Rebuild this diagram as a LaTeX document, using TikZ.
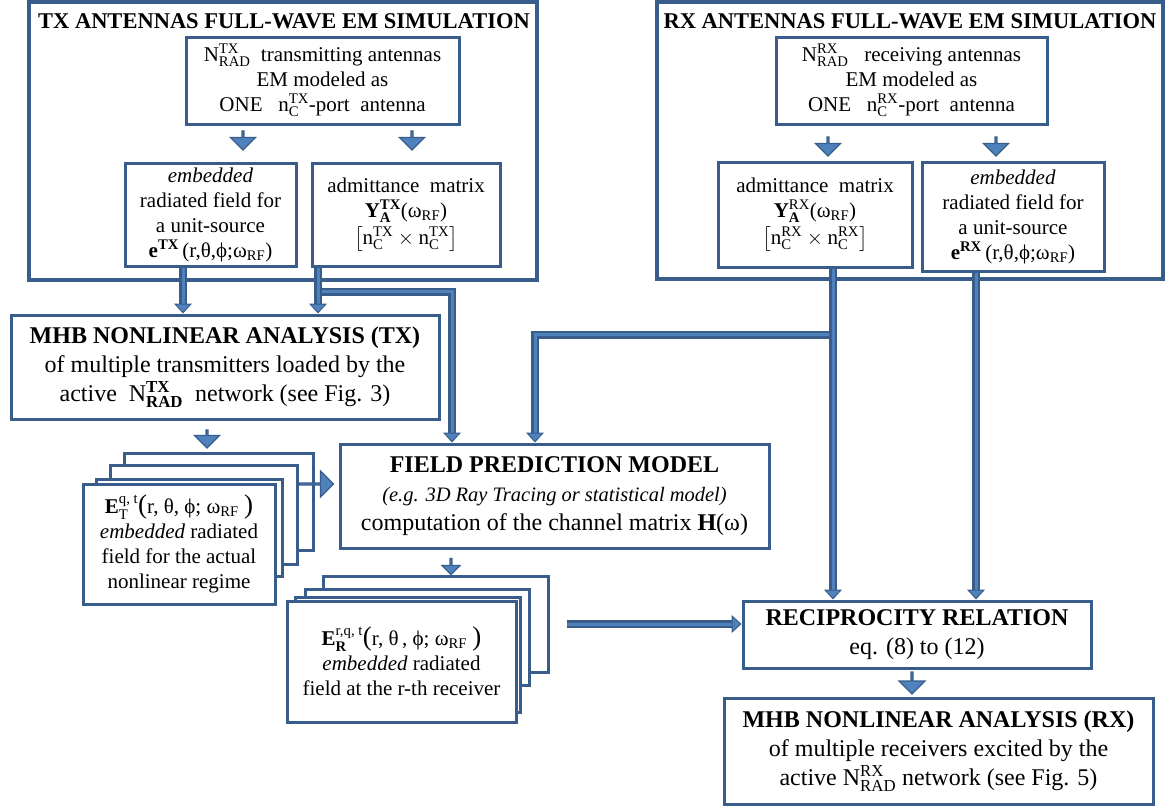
\documentclass[tikz,border=0pt]{standalone}
\usepackage{amsmath}
\usepackage{fontspec}
\setmainfont{Liberation Serif}
\usetikzlibrary{arrows.meta,shapes.arrows,calc}
\definecolor{bord}{RGB}{56,93,138}
\definecolor{fillb}{RGB}{79,129,189}
\newcommand{\wrf}{$\text{ω}_{\text{RF}}$}
\newcommand{\bigpar}[1]{{\fontsize{27}{27}\selectfont #1}}
\tikzset{
  box/.style  = {draw=bord, line width=3pt, fill=white, inner sep=0pt, align=center},
  big/.style  = {box, line width=3.5pt},
  ttl/.style  = {font=\fontsize{22.5}{26}\selectfont\bfseries},
  txt/.style  = {font=\fontsize{21}{25}\selectfont},
  txtl/.style = {font=\fontsize{24}{29}\selectfont},
  conn/.style = {draw=bord, line width=2.5pt, double=fillb, double distance=3pt,
                 -{Triangle[length=10pt,width=18pt,fill=fillb,line width=1pt]}},
  blk/.style  = {single arrow, draw=bord, fill=fillb, line width=1.2pt, inner sep=0pt,
                 minimum height=19pt, minimum width=25pt, single arrow head extend=7pt},
  down/.style = {blk, shape border rotate=270}
}
\begin{document}
\begin{tikzpicture}[x=1pt,y=-1pt]
  \useasboundingbox (0,0) rectangle (1173,807);
  % ---- TX antennas ----
  \node[big, minimum width=508pt, minimum height=278pt] (txsim) at (283,141) {};
  \node[ttl] (txttl) at (284,21) {TX ANTENNAS FULL-WAVE EM SIMULATION};
  \node[box, txt, minimum width=273pt, minimum height=87pt] (txant) at (322.5,80.5)
    {N$^{\text{TX}}_{\text{RAD}}$~~transmitting antennas\\EM modeled as\\ONE~~~n$^{\text{TX}}_{\text{C}}$-port~~antenna};
  \node[box, txt, minimum width=171pt, minimum height=103pt] (txemb) at (210.5,214.5)
    {\textit{embedded}\\radiated field for\\a unit-source\\\textbf{e}$^{\textbf{TX}}$\,(r,θ,ϕ;\wrf)};
  \node[box, txt, minimum width=188pt, minimum height=103pt] (txadm) at (406,214.5)
    {admittance~~matrix\\\textbf{Y}$^{\textbf{TX}}_{\textbf{A}}$(\wrf)\\[2pt]$\left[\text{n}^{\text{TX}}_{\text{C}}\times\text{n}^{\text{TX}}_{\text{C}}\right]$};
  \node[down] (ta1) at (243,140) {};
  \node[down] (ta2) at (412,140) {};
  % ---- RX antennas ----
  \node[big, minimum width=506pt, minimum height=277pt] (rxsim) at (910,140.5) {};
  \node[ttl] (rxttl) at (910,21) {RX ANTENNAS FULL-WAVE EM SIMULATION};
  \node[box, txt, minimum width=271pt, minimum height=87pt] (rxant) at (911.5,80.5)
    {N$^{\text{RX}}_{\text{RAD}}$~~~receiving antennas\\EM modeled as\\ONE~~~n$^{\text{RX}}_{\text{C}}$-port~~antenna};
  \node[box, txt, minimum width=194pt, minimum height=105pt] (rxadm) at (815,214.5)
    {admittance~~matrix\\\textbf{Y}$^{\text{RX}}_{\textbf{A}}$(\wrf)\\[2pt]$\left[\text{n}^{\text{RX}}_{\text{C}}\times\text{n}^{\text{RX}}_{\text{C}}\right]$};
  \node[box, txt, minimum width=182pt, minimum height=109pt] (rxemb) at (1013,216.5)
    {\textit{embedded}\\radiated field for\\a unit-source\\\textbf{e}$^{\textbf{RX}}$\,(r,θ,ϕ;\wrf)};
  \node[down] (ra1) at (828,146) {};
  \node[down] (ra2) at (996,146) {};
  % ---- analysis and field model ----
  \node[box, txtl, minimum width=428pt, minimum height=104pt] (mhbtx) at (225,367)
    {\textbf{MHB NONLINEAR ANALYSIS (TX)}\\of multiple transmitters loaded by the\\active~~N$^{\textbf{TX}}_{\textbf{RAD}}$~~network (see Fig. 3)};
  \node[box, txtl, minimum width=429pt, minimum height=104pt] (fpm) at (554.5,496)
    {\textbf{FIELD PREDICTION MODEL}\\{\fontsize{20.5}{25}\selectfont\itshape (e.g. 3D Ray Tracing or statistical model)}\\computation of the channel matrix \textbf{H}(ω)};
  % TX field stack
  \node[box, minimum width=189pt, minimum height=97pt] (txback) at (218.5,501.5) {};
  \node[box, minimum width=187pt, minimum height=99pt] (txmid) at (203.5,514.5) {};
  \node[box, minimum width=186pt, minimum height=97pt] (txthird) at (189,527.5) {};
  \node[box, txt, minimum width=192pt, minimum height=120pt] (txfront) at (179,544)
    {\textbf{E}$^{\text{q, t}}_{\text{T}}$\bigpar{(}r, θ, ϕ; ω$_{\text{RF}}$~\bigpar{)}\\\textit{embedded} radiated\\field for the actual\\nonlinear regime};
  \node[down, minimum height=18pt] (tm1) at (207,438.5) {};
  \node[blk, minimum height=34pt, minimum width=26pt, single arrow head extend=7.5pt] (tm2) at (316,484) {};
  % RX field stack
  \node[box, minimum width=225pt, minimum height=96pt] (rxback) at (435.5,624) {};
  \node[box, minimum width=224pt, minimum height=96pt] (rxmid) at (417,637) {};
  \node[box, minimum width=225pt, minimum height=115pt] (rxthird) at (407.5,654.5) {};
  \node[box, txt, minimum width=229pt, minimum height=121pt] (rxfront) at (401.5,661.5)
    {\textbf{E}$^{\text{r,q, t}}_{\textbf{R}}$\bigpar{(}r, θ\,, ϕ; ω$_{\text{RF}}$~\bigpar{)}\\\textit{embedded} radiated\\field at the r-th receiver};
  \node[down, minimum height=16pt, minimum width=18pt, single arrow head extend=5pt] (fm1) at (451,566) {};
  % ---- reciprocity and RX analysis ----
  \node[box, txtl, minimum width=348pt, minimum height=67pt] (recip) at (917,634.5)
    {\textbf{RECIPROCITY RELATION}\\eq. (8) to (12)};
  \node[box, txtl, minimum width=429pt, minimum height=106pt] (mhbrx) at (938.5,751)
    {\textbf{MHB NONLINEAR ANALYSIS (RX)}\\of multiple receivers excited by the\\active N$^{\text{RX}}_{\text{RAD}}$ network (see Fig. 5)};
  \node[down, minimum height=22pt, minimum width=26pt] (rc1) at (912,682.5) {};
  % ---- connectors ----
  \coordinate (te) at ([xshift=-27.5pt]txemb.south);
  \coordinate (ta) at ([xshift=-88pt]txadm.south);
  \coordinate (tj) at ([yshift=-24pt]ta);
  \coordinate (tf) at ([xshift=-102.5pt]fpm.north);
  \coordinate (ra) at ([xshift=18pt]rxadm.south);
  \coordinate (rj) at ([yshift=-66pt]ra);
  \coordinate (rf) at ([xshift=-19.5pt]fpm.north);
  \coordinate (re) at ([xshift=-37pt]rxemb.south);
  \coordinate (rs) at ([xshift=17pt]rxback.east);
  \draw[conn] (tj) -| (tf);
  \draw[conn] (rj) -| (rf);
  \draw[conn] (te) -- (te |- mhbtx.north);
  \draw[conn] (ta) -- (ta |- mhbtx.north);
  \draw[conn] (ra) -- (ra |- recip.north);
  \draw[conn] (re) -- (re |- recip.north);
  \draw[conn] (rs) -- (rs -| recip.west);
\end{tikzpicture}
\end{document}
